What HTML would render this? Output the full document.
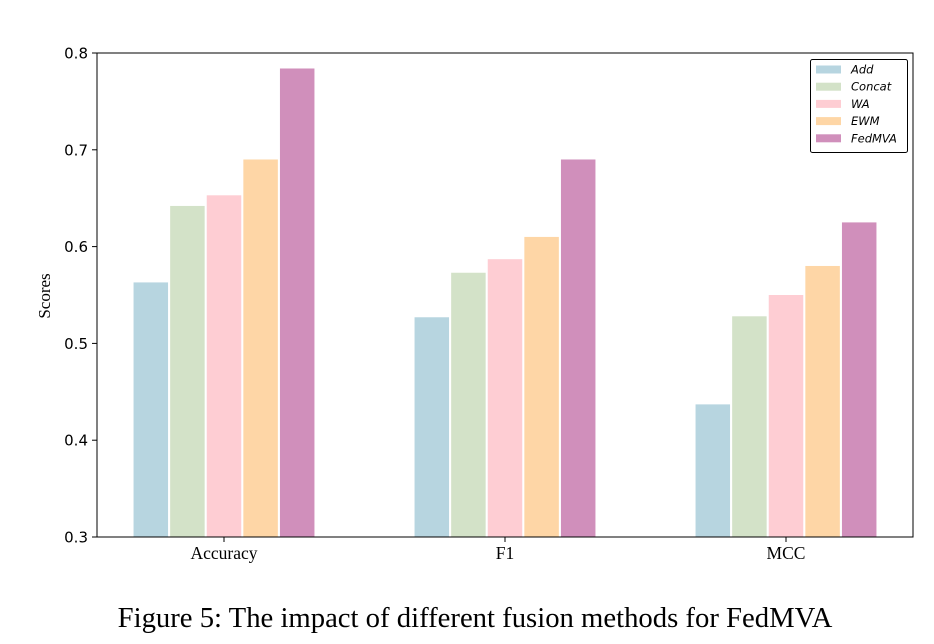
<!DOCTYPE html>
<html><head><meta charset="utf-8"><style>
html,body{margin:0;padding:0;background:#fff;width:934px;height:644px;overflow:hidden}
</style></head><body>
<svg id="chart" width="934" height="644" xmlns="http://www.w3.org/2000/svg">
<rect x="0" y="0" width="934" height="644" fill="#fff"/>
<g id="bars"></g>
<rect x="97" y="53" width="816" height="484" fill="none" stroke="#000" stroke-width="1"/>
<g id="yticks"></g>
<g id="xticks"></g>
<text x="50" y="296" transform="rotate(-90 50 296)" text-anchor="middle" font-family="Liberation Serif, serif" font-size="17">Scores</text>
<g id="legend">
<rect x="810.5" y="59.5" width="97" height="93" rx="2" fill="#fff" stroke="#000" stroke-width="1"/>
</g>
<text x="475" y="627" text-anchor="middle" font-family="Liberation Serif, serif" font-size="28.7">Figure 5: The impact of different fusion methods for FedMVA</text>
</svg>
<script>
const categories = ["Accuracy", "F1", "MCC"];
const seriesNames = ["Add", "Concat", "WA", "EWM", "FedMVA"];
const addValues = [0.563, 0.527, 0.437];
const concatValues = [0.642, 0.573, 0.528];
const waValues = [0.653, 0.587, 0.550];
const ewmValues = [0.690, 0.610, 0.580];
const fedmvaValues = [0.784, 0.690, 0.625];
const yTicks = [0.3, 0.4, 0.5, 0.6, 0.7, 0.8];
const colors = ["#b7d5e0", "#d3e2c8", "#fecdd3", "#fed6a6", "#d08fbb"];
const series = [addValues, concatValues, waValues, ewmValues, fedmvaValues];

const NS = "http://www.w3.org/2000/svg";
const plotL = 97, plotR = 913, plotT = 53, plotB = 537, yMin = 0.3, yMax = 0.8;
function yScale(v){ return plotB - (v - yMin) / (yMax - yMin) * (plotB - plotT); }
const groupStep = 281, firstCenter = 224, barW = 34.5, barStep = 36.6;
function xCenter(i){ return firstCenter + i * groupStep; }
function mk(tag, attrs){ const e = document.createElementNS(NS, tag); for (const k in attrs) e.setAttribute(k, attrs[k]); return e; }

const bars = document.getElementById('bars');
series.forEach((vals, s) => {
  vals.forEach((v, i) => {
    const x = xCenter(i) + (s - 2) * barStep - barW / 2;
    const r = mk('rect', {x: x, y: yScale(v), width: barW, height: plotB - yScale(v), fill: colors[s]});
    
    
    bars.appendChild(r);
  });
});

const yt = document.getElementById('yticks');
yTicks.forEach(t => {
  const y = yScale(t);
  const l = mk('line', {x1: plotL - 5, x2: plotL, y1: y, y2: y, stroke: '#000'});
  
  
  yt.appendChild(l);
  const tx = mk('text', {x: plotL - 9, y: y + 5.5, 'text-anchor': 'end', 'font-family': 'DejaVu Sans, sans-serif', 'font-size': '15'});
  tx.textContent = t.toFixed(1);
  
  
  yt.appendChild(tx);
});

const xt = document.getElementById('xticks');
categories.forEach((c, i) => {
  const x = xCenter(i);
  const l = mk('line', {x1: x, x2: x, y1: plotB, y2: plotB + 5, stroke: '#000'});
  
  
  xt.appendChild(l);
  const tx = mk('text', {x: x, y: plotB + 22, 'text-anchor': 'middle', 'font-family': 'Liberation Serif, serif', 'font-size': '17.5'});
  tx.textContent = c;
  
  
  xt.appendChild(tx);
});

const lg = document.getElementById('legend');
seriesNames.forEach((n, s) => {
  const y = 69 + s * 17.2;
  const p = mk('rect', {x: 816, y: y - 3.5, width: 25, height: 8, fill: colors[s]});
  
  
  lg.appendChild(p);
  const tx = mk('text', {x: 851, y: y + 4.5, 'font-family': 'DejaVu Sans, sans-serif', 'font-size': '11.5', 'font-style': 'italic'});
  tx.textContent = n;
  
  
  lg.appendChild(tx);
});
</script>
</body></html>
